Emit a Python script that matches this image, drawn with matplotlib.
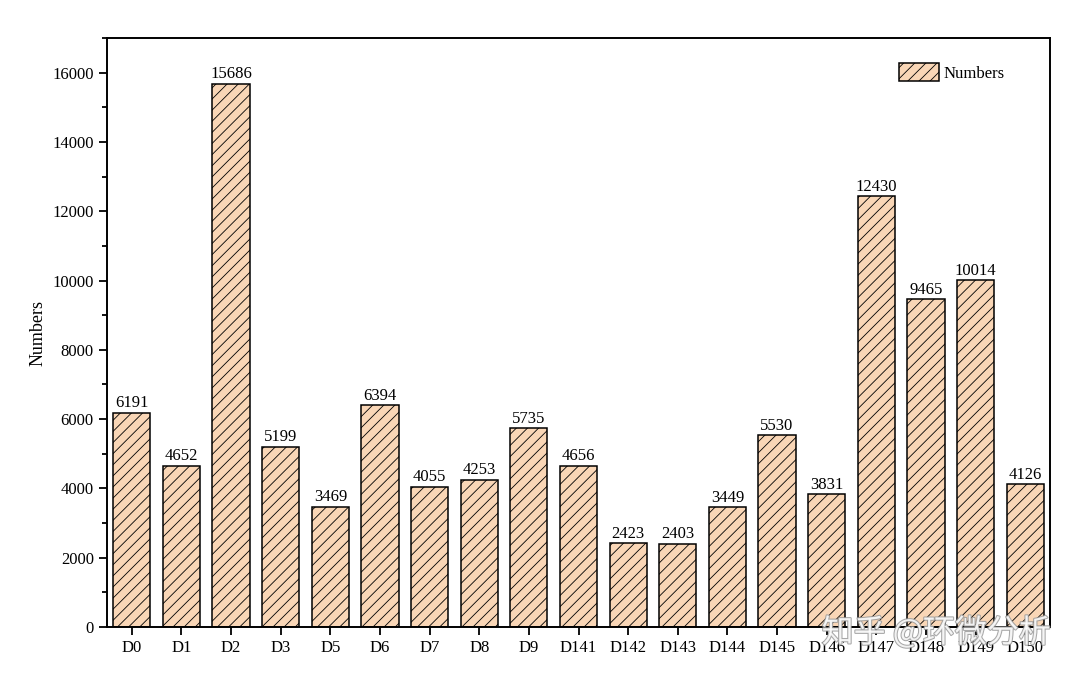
import matplotlib
matplotlib.use("Agg")
import matplotlib.pyplot as plt
import matplotlib.patheffects as pe
from matplotlib.ticker import MultipleLocator

categories = ["D0", "D1", "D2", "D3", "D5", "D6", "D7", "D8", "D9", "D141",
              "D142", "D143", "D144", "D145", "D146", "D147", "D148", "D149", "D150"]
values = [6191, 4652, 15686, 5199, 3469, 6394, 4055, 4253, 5735, 4656,
          2423, 2403, 3449, 5530, 3831, 12430, 9465, 10014, 4126]

plt.rcParams['font.family'] = ['Liberation Serif', 'DejaVu Serif']
plt.rcParams['hatch.linewidth'] = 0.6
plt.rcParams['hatch.color'] = '#2a2a2a'

fig = plt.figure(figsize=(10.8, 6.79), dpi=100)
ax = fig.add_axes([0.0991, 0.0766, 0.8731, 0.8674])

x = list(range(len(categories)))
bars = ax.bar(x, values, width=0.75, color='#F9D6B6', edgecolor='black',
              linewidth=1.1, hatch='///', label='Numbers')
for xi, v in zip(x, values):
    ax.text(xi, v + 40, str(v), ha='center', va='bottom', fontsize=12)

ax.set_xlim(-0.5, len(categories) - 0.5)
ax.set_ylim(0, 17000)
ax.set_xticks(x)
ax.set_xticklabels(categories, fontsize=12)
ax.yaxis.set_major_locator(MultipleLocator(2000))
ax.yaxis.set_minor_locator(MultipleLocator(1000))
ax.tick_params(axis='both', which='major', direction='out', length=6, width=1.3, labelsize=12)
ax.tick_params(axis='y', which='minor', direction='out', length=3.5, width=1.3)
for s in ax.spines.values():
    s.set_linewidth(1.4)
ax.set_ylabel('Numbers', fontsize=13, labelpad=4)

leg = ax.legend(loc='upper right', bbox_to_anchor=(0.968, 0.983), frameon=False,
                fontsize=12, handlelength=2.4, handleheight=1.3, handletextpad=0.3)

fig.text(0.867, 0.068, '知乎 @环微分析', fontsize=23, color='white', alpha=0.85,
         ha='center', va='center',
         family=['Noto Sans CJK SC', 'DejaVu Sans'],
         path_effects=[pe.withStroke(linewidth=1.5, foreground='#999999')])

fig.savefig('out.png', dpi=100)
